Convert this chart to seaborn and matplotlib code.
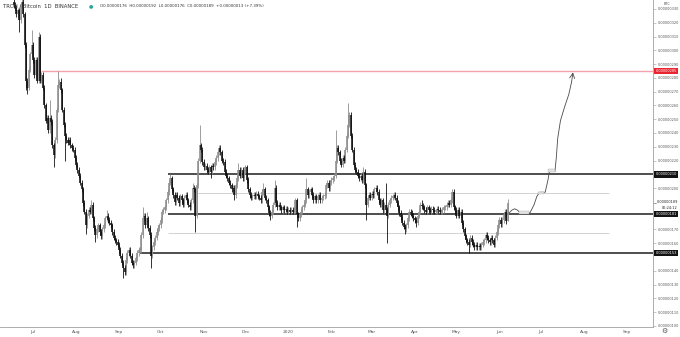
import numpy as np
import pandas as pd
import matplotlib
matplotlib.use("Agg")
import matplotlib.pyplot as plt
import matplotlib.dates as mdates
import matplotlib.transforms as mtransforms
from matplotlib.patches import Rectangle
import seaborn as sns

# ---------------- data (prices in satoshi = 1e-8 BTC) ----------------
start_date = "2019-06-17"
first_open = 335
closes = [
    333, 331, 326, 329, 322, 333, 335, 326, 304, 278, 273, 286, 297, 304,
    293, 282, 293, 278, 310, 278, 282, 273, 260, 249,
    251, 242, 251, 248, 231, 224, 235, 257, 275, 277,
    271, 257, 246, 238, 235, 233, 235, 231, 229, 228,
    222, 217, 213, 209, 204, 199, 189, 183, 173, 180,
    184, 183, 188, 178, 171, 166, 170, 173, 168, 165,
    170, 173, 178, 180, 177, 175, 173, 168, 164, 162,
    161, 159, 155, 151, 146, 142, 139, 148, 153, 155,
    151, 146, 144, 146, 149, 153, 155, 155, 166, 178,
    180, 173, 178, 171, 166, 151, 157, 161, 164, 168,
    171, 173, 177, 183, 184, 186, 191, 197, 204, 207,
    199, 195, 190, 195, 193, 189, 194, 191, 188, 193,
    195, 191, 188, 186, 191, 200, 199, 180, 202, 220,
    231, 228, 219, 215, 216, 213, 212, 215, 212, 216,
    215, 219, 222, 226, 229, 226, 220, 219, 212, 209,
    207, 204, 202, 199, 200, 195, 202, 207, 213, 209,
    213, 207, 212, 215, 206, 199, 195, 193, 194, 195,
    194, 196, 194, 193, 191, 197, 199, 193, 191, 186,
    182, 180, 183, 188, 200, 189, 186, 188, 186, 184,
    186, 184, 185, 183, 184, 183, 184, 183, 184, 191,
    181, 178, 181, 183, 186, 188, 191, 199, 195, 197,
    199, 195, 191, 194, 191, 194, 195, 191, 193, 194,
    195, 202, 204, 200, 204, 206, 207, 209, 220, 229,
    226, 220, 217, 222, 220, 228, 238, 246, 253, 238,
    228, 217, 213, 212, 209, 207, 209, 206, 212, 202,
    188, 193, 195, 193, 196, 195, 199, 200, 197, 191,
    188, 191, 184, 188, 184, 180, 188, 191, 193, 194,
    195, 193, 189, 186, 182, 179, 175, 172, 170, 173,
    178, 183, 182, 180, 178, 177, 175, 180, 183, 188,
    187, 186, 184, 183, 186, 184, 183, 185, 184, 183,
    183, 185, 184, 183, 183, 184, 186, 186, 188, 189,
    188, 191, 197, 186, 184, 180, 184, 180, 183, 175,
    170, 165, 162, 161, 159, 164, 161, 159, 157, 159,
    157, 158, 157, 159, 161, 162, 166, 164, 162, 161,
    164, 162, 159, 164, 168, 173, 177, 174, 177, 181,
    183, 176, 189,
]
# notable wick extremes (date -> price)
high_spikes = {
    "2019-06-23": 340, "2019-06-30": 315, "2019-07-05": 313, "2019-07-13": 264,
    "2019-07-19": 285, "2019-07-21": 280, "2019-08-12": 191, "2019-08-23": 184,
    "2019-09-18": 186, "2019-09-21": 183, "2019-10-08": 210, "2019-10-24": 204,
    "2019-10-29": 246, "2019-11-12": 231, "2019-11-26": 218, "2019-12-14": 204,
    "2019-12-22": 206, "2020-01-14": 207, "2020-02-04": 242, "2020-02-13": 262,
    "2020-02-24": 215, "2020-03-11": 204, "2020-03-18": 197, "2020-04-06": 191,
    "2020-04-28": 199, "2020-06-07": 192,
}
low_spikes = {
    "2019-06-21": 313, "2019-06-26": 271, "2019-06-27": 268, "2019-07-16": 215,
    "2019-07-24": 220, "2019-08-08": 167, "2019-08-15": 161, "2019-09-04": 135,
    "2019-09-24": 142, "2019-10-26": 168, "2019-11-06": 207, "2019-11-23": 191,
    "2019-12-19": 177, "2020-01-07": 172, "2020-02-26": 177, "2020-03-12": 160,
    "2020-03-25": 167, "2020-04-02": 172, "2020-05-10": 153, "2020-06-07": 176,
}
default_wick = 2

# hand-drawn projection path
proj_dates = ["2020-06-08", "2020-06-10", "2020-06-12", "2020-06-14", "2020-06-16",
              "2020-06-18", "2020-06-23", "2020-06-26", "2020-06-28", "2020-06-30",
              "2020-07-04", "2020-07-06", "2020-07-07", "2020-07-09", "2020-07-11",
              "2020-07-12", "2020-07-13", "2020-07-15", "2020-07-18", "2020-07-21",
              "2020-07-23", "2020-07-24"]
proj_vals = [182, 184, 185, 184, 182, 182, 182, 188, 194, 197,
             197, 206, 212, 213, 212, 222, 236, 249, 259, 268, 277, 284]
proj_boxes = [("2020-06-15", "2020-06-22", 181.5, 183.5),
              ("2020-06-29", "2020-07-03", 196, 197.5),
              ("2020-07-06", "2020-07-11", 211.5, 213.5)]

# horizontal levels: (price, start date, end date or None, style)
levels = [
    (285, "2019-07-07", None, "red"),
    (210, "2019-10-06", None, "black"),
    (181, "2019-10-06", None, "black"),
    (153, "2019-09-16", None, "black"),
    (196.5, "2019-10-27", "2020-08-19", "gray"),
    (167.5, "2019-10-06", "2020-08-19", "gray"),
]
box_labels = [(285, "#e8262f"), (210, "#131313"), (181, "#131313"), (153, "#131313")]
current_price = 189
countdown = "06:24:12"
ytick_vals = [330, 320, 310, 300, 290, 280, 270, 260, 250, 240, 230, 220, 200,
              170, 160, 140, 130, 120, 110, 100]
header_left = "TRON / Bitcoin  1D  BINANCE"
header_ohlc = "O0.00000176  H0.00000192  L0.00000176  C0.00000189  +0.00000013 (+7.39%)"
x_range = ("2019-06-07 05:00", "2020-09-19 16:00")
y_range = (99.2, 336.5)

# ---------------- build frame ----------------
dates = pd.date_range(start_date, periods=len(closes), freq="D")
df = pd.DataFrame({"date": dates, "close": closes})
df["open"] = [first_open] + closes[:-1]
df["high"] = df[["open", "close"]].max(axis=1) + default_wick
df["low"] = df[["open", "close"]].min(axis=1) - default_wick
for d, v in high_spikes.items():
    df.loc[df.date == pd.Timestamp(d), "high"] = v
for d, v in low_spikes.items():
    df.loc[df.date == pd.Timestamp(d), "low"] = v

def fmt(v):
    return f"{v / 1e8:.8f}"

# ---------------- draw ----------------
sns.set_style("white")
plt.rcParams["font.family"] = ["DejaVu Sans"]
W, H = 680, 337
fig = plt.figure(figsize=(W / 100, H / 100), dpi=100)
ax = fig.add_axes([0, 10 / H, 653 / W, 327 / H])
xl = mdates.date2num(pd.to_datetime(list(x_range)))
ax.set_xlim(*xl)
ax.set_ylim(*y_range)

UP, DN = "#8e8e8e", "#111111"
x = mdates.date2num(df.date)
up = (df.close >= df.open).values
for mask, col in ((up, UP), (~up, DN)):
    ax.vlines(x[mask], df.low[mask], df.high[mask], color=col, lw=0.6, zorder=3)
    lo = df[["open", "close"]].min(axis=1)[mask]
    hi = np.maximum(df[["open", "close"]].max(axis=1)[mask], lo + 0.8)
    ax.vlines(x[mask], lo, hi, color=col, lw=1.15, zorder=3)

for price, s, e, style in levels:
    xs = mdates.date2num(pd.Timestamp(s))
    xe = xl[1] if e is None else mdates.date2num(pd.Timestamp(e))
    if style == "red":
        ax.hlines(price, xs, xe, color="#f2a3ac", lw=1.0, zorder=2)
    elif style == "black":
        ax.hlines(price, xs, xe, color="#1e1e1e", lw=1.1, zorder=2)
    else:
        ax.hlines(price, xs, xe, color="#d2d2d2", lw=0.7, zorder=1)

pdates = pd.to_datetime(proj_dates)
sns.lineplot(x=pdates[:-1], y=proj_vals[:-1], sort=False, estimator=None,
             color="#4a4a4a", lw=0.6, ax=ax, zorder=4)
ax.annotate("", xy=(mdates.date2num(pdates[-1]), proj_vals[-1]),
            xytext=(mdates.date2num(pdates[-2]), proj_vals[-2]),
            arrowprops=dict(arrowstyle="->", color="#4a4a4a", lw=0.6,
                            mutation_scale=9, shrinkA=0, shrinkB=0), zorder=4)
for s, e, lo, hi in proj_boxes:
    x0 = mdates.date2num(pd.Timestamp(s))
    x1 = mdates.date2num(pd.Timestamp(e))
    ax.add_patch(Rectangle((x0, lo), x1 - x0, hi - lo, facecolor="#e4e4e4",
                           edgecolor="#9a9a9a", lw=0.25, zorder=4))

# axes styling
for sp in ("top", "left"):
    ax.spines[sp].set_visible(False)
for sp in ("right", "bottom"):
    ax.spines[sp].set_color("#a0a0a0")
    ax.spines[sp].set_linewidth(0.6)
ax.yaxis.tick_right()
ax.set_yticks(ytick_vals)
ax.set_yticklabels([fmt(v) for v in ytick_vals])
ax.tick_params(axis="y", length=2, width=0.4, color="#999999", pad=1.2,
               labelsize=2.5, labelcolor="#555555")
ax.xaxis.set_major_locator(mdates.MonthLocator())
ax.xaxis.set_major_formatter(plt.FuncFormatter(
    lambda v, p: "2020" if mdates.num2date(v).month == 1 else mdates.num2date(v).strftime("%b")))
ax.tick_params(axis="x", length=0, pad=2.2, labelsize=3.2, labelcolor="#555555")
ax.set_xlabel("")
ax.set_ylabel("")
ax.grid(False)

trans = mtransforms.blended_transform_factory(ax.transAxes, ax.transData)
for price, col in box_labels:
    ax.text(1.004, price, fmt(price), transform=trans, fontsize=2.5, color="white",
            va="center", ha="left", clip_on=False, zorder=6,
            bbox=dict(boxstyle="square,pad=0.35", facecolor=col, edgecolor="none"))
ax.text(1.006, current_price + 0.8, fmt(current_price), transform=trans, fontsize=2.5,
        color="#222222", va="center", ha="left", clip_on=False)
ax.text(1.014, current_price - 3.6, countdown, transform=trans, fontsize=2.5,
        color="#222222", va="center", ha="left", clip_on=False)
ax.plot([1.0, 1.004], [current_price, current_price], transform=trans, color="#555",
        lw=0.4, clip_on=False)

fig.text(3 / W, 1 - 6 / H, header_left, fontsize=3.8, color="#333333", va="center")
fig.text(89 / W, 1 - 6 / H, "●", fontsize=3.6, color="#26a69a", va="center")
fig.text(100 / W, 1 - 6 / H, header_ohlc, fontsize=2.9, color="#333333", va="center")
fig.text(667 / W, 1 - 4 / H, "BTC", fontsize=2.5, color="#555555", va="center", ha="center")
fig.text(664 / W, 1 - 331 / H, "⚙", fontsize=5, color="#555555", va="center", ha="center")

fig.savefig("out.png", dpi=100, facecolor="white")
